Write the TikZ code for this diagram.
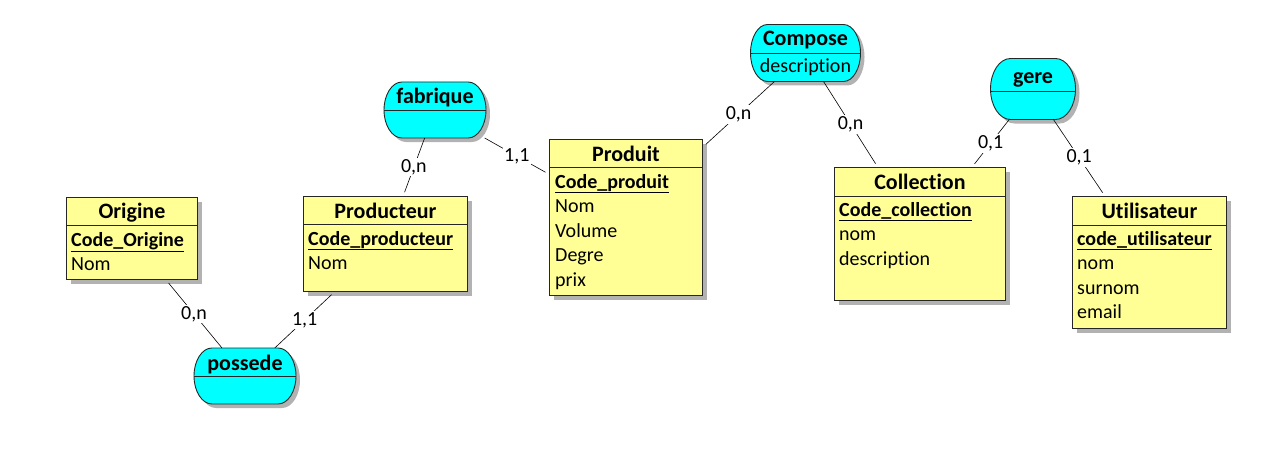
\documentclass[tikz,border=0pt]{standalone}
\usepackage{fontspec}
\setmainfont{Carlito}[Ligatures=NoCommon]
\usetikzlibrary{positioning,calc,shadows}
\definecolor{entyellow}{RGB}{255,255,150}
\definecolor{asscyan}{RGB}{0,255,255}

\begin{document}
\begin{tikzpicture}[x=1pt,y=-1pt,
    entity/.style={draw=black!85,line width=0.9pt,fill=entyellow,anchor=north west,inner sep=0pt,
      drop shadow={shadow xshift=5pt,shadow yshift=-5pt,fill=black!30,opacity=1}},
    assoc/.style={inner sep=0pt,outer sep=0pt},
    assocshape/.style={draw=black!85,line width=0.9pt,fill=asscyan,
      drop shadow={shadow xshift=4pt,shadow yshift=-4pt,fill=black!30,opacity=1}},
    sep/.style={line width=0.9pt,black!85},
    ttl/.style={anchor=base,inner sep=0pt,font=\fontsize{22}{26}\selectfont\bfseries},
    key/.style={anchor=base west,inner sep=0pt,font=\fontsize{20}{24}\selectfont\bfseries},
    attr/.style={anchor=base west,inner sep=0pt,font=\fontsize{20}{24}\selectfont},
    card/.style={fill=white,inner sep=1.5pt,font=\fontsize{20}{24}\selectfont},
    link/.style={line width=0.6pt,shorten <=4pt}]
    \useasboundingbox (0,0) rectangle (1272,460);

    % entities
    \node[entity,minimum width=131,minimum height=82] (origine) at (66,197) {};
    \node[ttl] (origine-t) at ($(origine.north)+(0,21.5)$) {Origine};
    \draw[sep] ($(origine.north west)+(0,28)$) -- ($(origine.north east)+(0,28)$);
    \node[key] (origine-k) at ($(origine.north west)+(5,49)$) {\underline{Code\_Origine}};
    \node[attr] (origine-1) at ($(origine.north west)+(5,73.5)$) {Nom};

    \node[entity,minimum width=164,minimum height=95] (producteur) at (303,196) {};
    \node[ttl] (producteur-t) at ($(producteur.north)+(0,22)$) {Producteur};
    \draw[sep] ($(producteur.north west)+(0,28)$) -- ($(producteur.north east)+(0,28)$);
    \node[key] (producteur-k) at ($(producteur.north west)+(5,49)$) {\underline{Code\_producteur}};
    \node[attr] (producteur-1) at ($(producteur.north west)+(5,73.5)$) {Nom};

    \node[entity,minimum width=153,minimum height=156] (produit) at (549,139) {};
    \node[ttl] (produit-t) at ($(produit.north)+(0,22)$) {Produit};
    \draw[sep] ($(produit.north west)+(0,28)$) -- ($(produit.north east)+(0,28)$);
    \node[key] (produit-k) at ($(produit.north west)+(6,49)$) {\underline{Code\_produit}};
    \foreach \a [count=\i] in {Nom,Volume,Degre,prix}
      \node[attr] (produit-\i) at ($(produit.north west)+(6,49+24.5*\i)$) {\a};

    \node[entity,minimum width=171,minimum height=133] (collection) at (834,167) {};
    \node[ttl] (collection-t) at ($(collection.north)+(0,22)$) {Collection};
    \draw[sep] ($(collection.north west)+(0,29)$) -- ($(collection.north east)+(0,29)$);
    \node[key] (collection-k) at ($(collection.north west)+(5,49)$) {\underline{Code\_collection}};
    \foreach \a [count=\i] in {nom,description}
      \node[attr] (collection-\i) at ($(collection.north west)+(5,49+24.5*\i)$) {\a};

    \node[entity,minimum width=154,minimum height=132] (utilisateur) at (1072,196) {};
    \node[ttl] (utilisateur-t) at ($(utilisateur.north)+(0,22)$) {Utilisateur};
    \draw[sep] ($(utilisateur.north west)+(0,29)$) -- ($(utilisateur.north east)+(0,29)$);
    \node[key] (utilisateur-k) at ($(utilisateur.north west)+(5,49)$) {\underline{code\_utilisateur}};
    \foreach \a [count=\i] in {nom,surnom,email}
      \node[attr] (utilisateur-\i) at ($(utilisateur.north west)+(5,49+24.5*\i)$) {\a};

    % associations
    \node[assoc,minimum width=102,minimum height=56] (possede) at (245,376) {};
    \draw[assocshape] ($(possede.north west)+(18,0)$) -- ($(possede.north east)+(-18,0)$)
      arc[start angle=-90,end angle=90,x radius=18,y radius=28] -- ($(possede.south west)+(18,0)$)
      arc[start angle=90,end angle=270,x radius=18,y radius=28] -- cycle;
    \node[ttl] (possede-t) at ($(possede.center)+(0,-6)$) {possede};
    \draw[sep] (possede.west) -- (possede.east);

    \node[assoc,minimum width=102,minimum height=56] (fabrique) at (435,110) {};
    \draw[assocshape] ($(fabrique.north west)+(18,0)$) -- ($(fabrique.north east)+(-18,0)$)
      arc[start angle=-90,end angle=90,x radius=18,y radius=28] -- ($(fabrique.south west)+(18,0)$)
      arc[start angle=90,end angle=270,x radius=18,y radius=28] -- cycle;
    \node[ttl] (fabrique-t) at ($(fabrique.center)+(0,-7)$) {fabrique};
    \draw[sep] (fabrique.west) -- (fabrique.east);

    \node[assoc,minimum width=110,minimum height=57] (compose) at (805.5,53) {};
    \draw[assocshape] ($(compose.north west)+(17,0)$) -- ($(compose.north east)+(-17,0)$)
      arc[start angle=-90,end angle=90,x radius=17,y radius=28.5] -- ($(compose.south west)+(17,0)$)
      arc[start angle=90,end angle=270,x radius=17,y radius=28.5] -- cycle;
    \node[ttl] (compose-t) at ($(compose.center)+(0,-7)$) {Compose};
    \draw[sep] (compose.west) -- (compose.east);
    \node[attr,anchor=base] (compose-1) at ($(compose.center)+(0,20)$) {description};

    \node[assoc,minimum width=85,minimum height=61] (gere) at (1033,89) {};
    \draw[assocshape] ($(gere.north west)+(20,0)$) -- ($(gere.north east)+(-20,0)$)
      arc[start angle=-90,end angle=90,x radius=20,y radius=30.5] -- ($(gere.south west)+(20,0)$)
      arc[start angle=90,end angle=270,x radius=20,y radius=30.5] -- cycle;
    \node[ttl] (gere-t) at ($(gere.center)+(0,-5.5)$) {gere};
    \draw[sep] ($(gere.west)+(0.3,2.5)$) -- ($(gere.east)+(-0.3,2.5)$);

    % links
    \draw[link] (origine) -- node[card] {0,n} (possede);
    \draw[link] (producteur) -- node[card] {1,1} (possede);
    \draw[link] (producteur) -- node[card] {0,n} (fabrique);
    \draw[link] (produit) -- node[card] {1,1} (fabrique);
    \draw[link] (produit) -- node[card] {0,n} (compose);
    \draw[link] (collection) -- node[card] {0,n} (compose);
    \draw[link] (collection) -- node[card] {0,1} (gere);
    \draw[link] (utilisateur) -- node[card] {0,1} (gere);
\end{tikzpicture}
\end{document}
